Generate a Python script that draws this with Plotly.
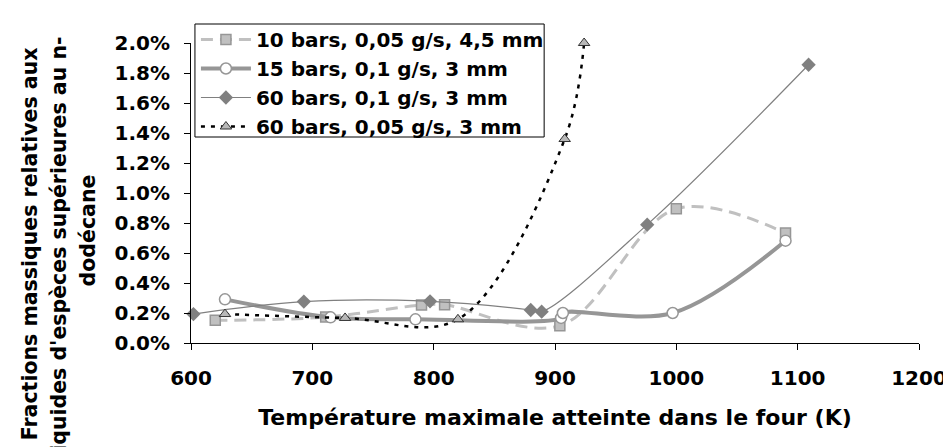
import plotly.graph_objects as go

# ---- data ----
s1_name = "10 bars, 0,05 g/s, 4,5 mm"
s1_x = [620, 711, 790, 809, 904, 1000, 1090]
s1_y = [0.00151, 0.00173, 0.00253, 0.00255, 0.00115, 0.00895, 0.00733]

s2_name = "15 bars, 0,1 g/s, 3 mm"
s2_x = [628, 715, 785, 905, 906.5, 997, 1090]
s2_y = [0.00291, 0.00171, 0.00158, 0.00167, 0.00200, 0.00200, 0.00682]

s3_name = "60 bars, 0,1 g/s, 3 mm"
s3_x = [602, 693, 797, 880, 889, 976, 1109]
s3_y = [0.00193, 0.00276, 0.00278, 0.00220, 0.00209, 0.00789, 0.01855]

s4_name = "60 bars, 0,05 g/s, 3 mm"
s4_x = [628, 727, 820, 908, 924]
s4_y = [0.00193, 0.00167, 0.00158, 0.01360, 0.02000]

x_title = "Température maximale atteinte dans le four (K)"
y_title_lines = ["Fractions massiques relatives aux",
                 "liquides d'espèces supérieures au n-",
                 "dodécane"]

FONT = "DejaVu Sans, Arial, sans-serif"

fig = go.Figure()
fig.add_trace(go.Scatter(
    x=s1_x, y=s1_y, name=s1_name, mode="lines+markers", cliponaxis=False,
    line=dict(color="#C0C0C0", width=3, dash="12px,7px", shape="spline", smoothing=1),
    marker=dict(symbol="square", size=10, color="#C0C0C0", line=dict(color="#969696", width=1.5))))
fig.add_trace(go.Scatter(
    x=s2_x, y=s2_y, name=s2_name, mode="lines+markers", cliponaxis=False,
    line=dict(color="#969696", width=4, shape="spline", smoothing=1),
    marker=dict(symbol="circle", size=11, color="white", line=dict(color="#969696", width=1.5))))
fig.add_trace(go.Scatter(
    x=s3_x, y=s3_y, name=s3_name, mode="lines+markers", cliponaxis=False,
    line=dict(color="#808080", width=1.2, shape="spline", smoothing=1),
    marker=dict(symbol="diamond", size=11, color="#808080", line=dict(color="#808080", width=0))))
fig.add_trace(go.Scatter(
    x=s4_x, y=s4_y, name=s4_name, mode="lines+markers", cliponaxis=False,
    line=dict(color="black", width=2.5, dash="4px,6px", shape="spline", smoothing=1),
    marker=dict(symbol="triangle-up", size=10, color="#B8B8B8", line=dict(color="#333333", width=1))))

L, R, T, B = 183, 30, 35, 112
W, H = 951, 447
pw, ph = W - L - R, H - T - B

def px_x(p):
    return (p - L) / pw

def px_y(p):
    return (H - B - p) / ph

fig.update_layout(
    width=W, height=H,
    margin=dict(l=L, r=R, t=T, b=B),
    paper_bgcolor="white", plot_bgcolor="white",
    font=dict(family=FONT, size=20, color="black", weight="bold"),
    showlegend=True,
    legend=dict(
        x=px_x(188), y=px_y(12), xanchor="left", yanchor="top",
        bgcolor="rgba(0,0,0,0)", borderwidth=0,
        font=dict(family=FONT, size=20, color="black", weight="bold"),
        itemwidth=50, tracegroupgap=0,
    ),
    xaxis=dict(
        range=[600, 1200], dtick=100, tick0=600,
        showline=True, linecolor="black", linewidth=1,
        ticks="outside", ticklen=6, tickcolor="black",
        showgrid=False, zeroline=False,
        tickfont=dict(family=FONT, size=20, color="black", weight="bold"),
        ticklabelstandoff=11,
        title=dict(text=x_title, standoff=20,
                   font=dict(family=FONT, size=22, color="black", weight="bold")),
    ),
    yaxis=dict(
        range=[0, 0.02], dtick=0.002, tick0=0, tickformat=".1%",
        showline=True, linecolor="black", linewidth=1,
        ticks="outside", ticklen=6, tickcolor="black",
        showgrid=False, zeroline=False,
        tickfont=dict(family=FONT, size=20, color="black", weight="bold"),
        ticklabelstandoff=10,
    ),
)

# legend frame (white box over the curves, legend text drawn on top)
fig.add_shape(type="rect", xref="paper", yref="paper",
              x0=px_x(187), x1=px_x(541), y0=px_y(129), y1=px_y(16),
              fillcolor="white", line=dict(color="black", width=1), layer="above")

# multi-line rotated y-axis title, one annotation per line
line_x = [20, 49, 79]
line_yc = [236, 240, 222]
for txt, xc, yc in zip(y_title_lines, line_x, line_yc):
    fig.add_annotation(
        text=txt, xref="paper", yref="paper", x=px_x(xc), y=px_y(yc),
        xanchor="center", yanchor="middle", textangle=-90, showarrow=False,
        font=dict(family=FONT, size=20.5, color="black", weight="bold"))

fig.write_html("out.html")
